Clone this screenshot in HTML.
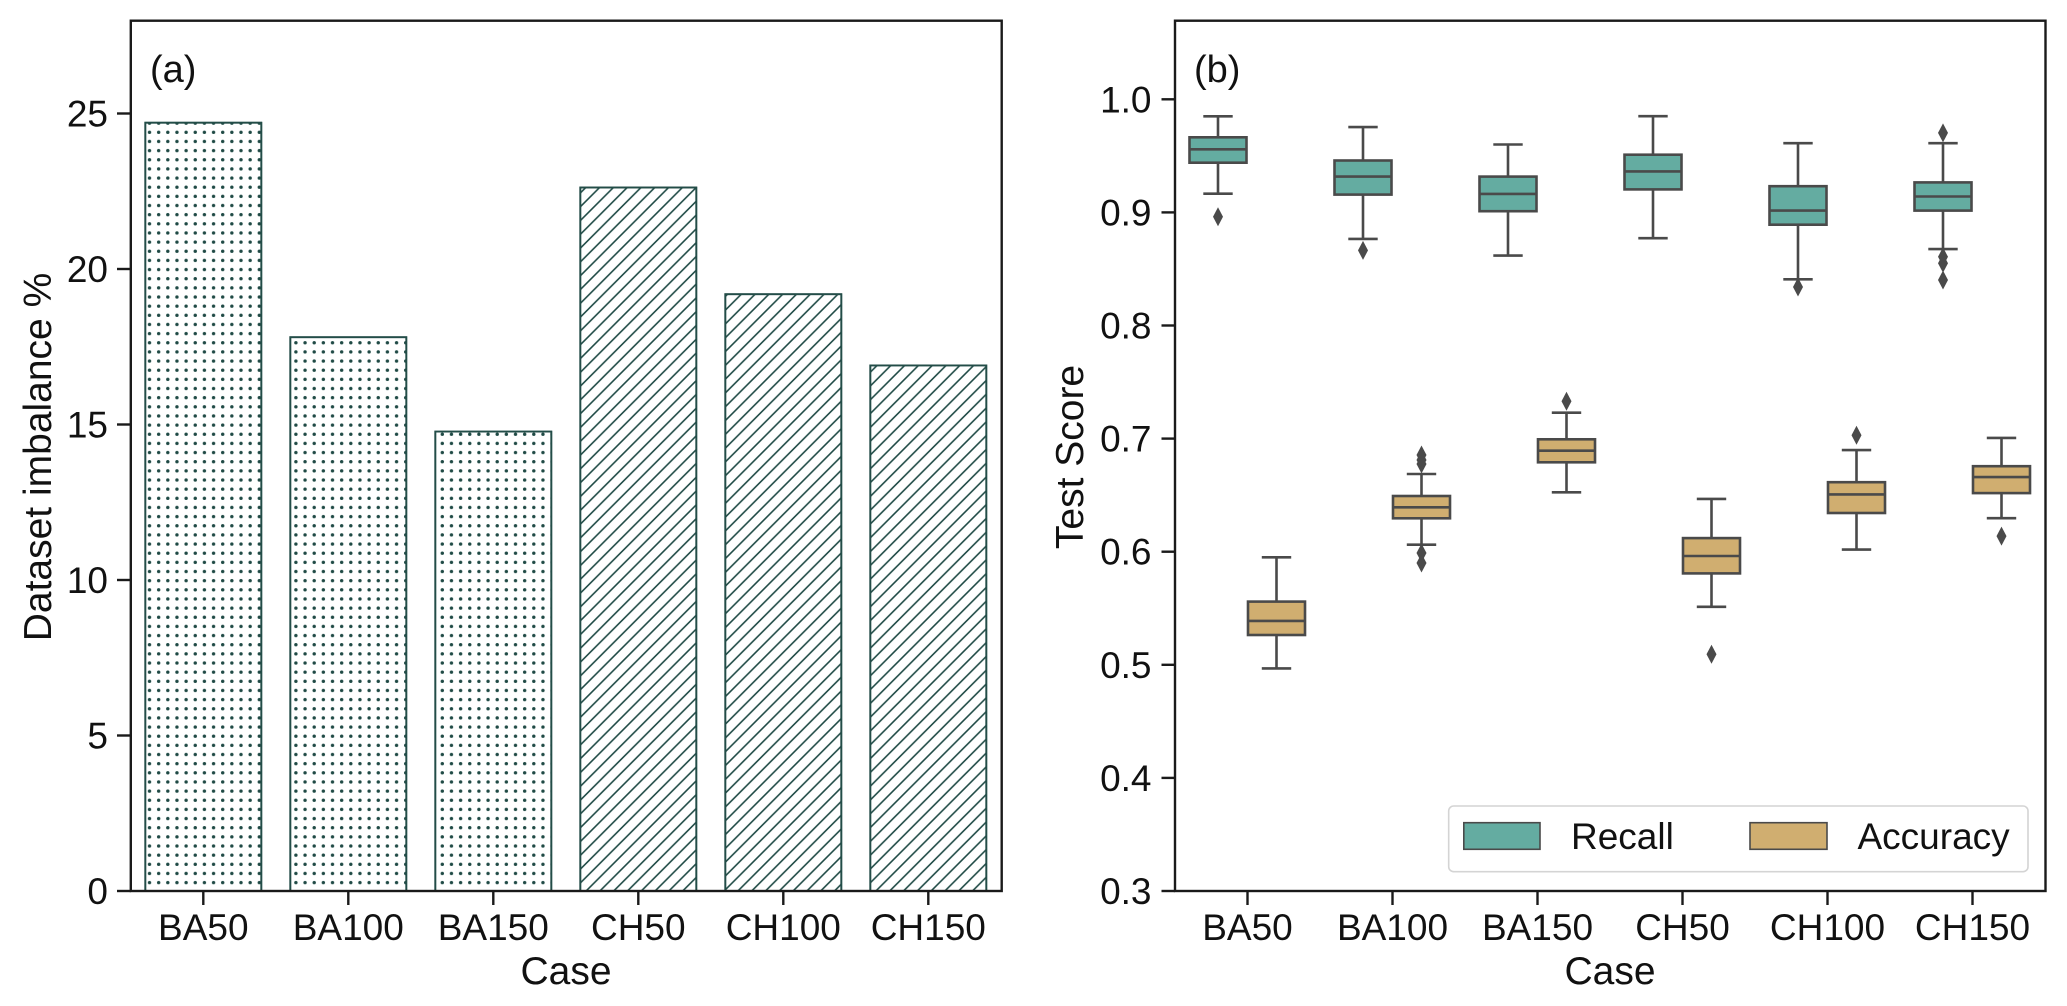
<!DOCTYPE html>
<html><head><meta charset="utf-8"><style>
html,body{margin:0;padding:0;background:#fff;}
svg{display:block;}
text{font-family:"Liberation Sans",Arial,sans-serif;fill:#111;}
</style></head><body>
<svg width="2067" height="1006" viewBox="0 0 2067 1006" xmlns="http://www.w3.org/2000/svg">
<defs>
<pattern id="dots" patternUnits="userSpaceOnUse" x="144.93" y="127.73" width="9.15" height="9.15">
<circle cx="4.575" cy="4.575" r="1.7" fill="#1f4a45"/>
</pattern>
<pattern id="hatch" patternUnits="userSpaceOnUse" x="0.5" y="0" width="13.8" height="13.8">
<path d="M0,13.8 L13.8,0 M-3.45,3.45 L3.45,-3.45 M10.35,17.25 L17.25,10.35" stroke="#1f4a45" stroke-width="1.6"/>
</pattern>
</defs>
<rect width="2067" height="1006" fill="#fff"/>

<!-- ===== Panel (a) ===== -->
<g stroke="#234d48" stroke-width="1.8">
<rect x="145.3" y="122.7" width="116" height="768.3" fill="#fff"/>
<rect x="145.3" y="122.7" width="116" height="768.3" fill="url(#dots)"/>
<rect x="290.3" y="337.2" width="116" height="553.8" fill="#fff"/>
<rect x="290.3" y="337.2" width="116" height="553.8" fill="url(#dots)"/>
<rect x="435.3" y="431.6" width="116" height="459.4" fill="#fff"/>
<rect x="435.3" y="431.6" width="116" height="459.4" fill="url(#dots)"/>
<rect x="580.3" y="187.5" width="116" height="703.5" fill="#fff"/>
<rect x="580.3" y="187.5" width="116" height="703.5" fill="url(#hatch)"/>
<rect x="725.3" y="294.2" width="116" height="596.8" fill="#fff"/>
<rect x="725.3" y="294.2" width="116" height="596.8" fill="url(#hatch)"/>
<rect x="870.3" y="365.4" width="116" height="525.6" fill="#fff"/>
<rect x="870.3" y="365.4" width="116" height="525.6" fill="url(#hatch)"/>
</g>
<rect x="130.8" y="20.7" width="870.9" height="870.3" fill="none" stroke="#1a1a1a" stroke-width="2.4"/>
<g stroke="#1a1a1a" stroke-width="2.4">
<line x1="117" y1="891" x2="131" y2="891"/>
<line x1="117" y1="735.5" x2="131" y2="735.5"/>
<line x1="117" y1="580" x2="131" y2="580"/>
<line x1="117" y1="424.5" x2="131" y2="424.5"/>
<line x1="117" y1="269" x2="131" y2="269"/>
<line x1="117" y1="113.5" x2="131" y2="113.5"/>
<line x1="203.3" y1="891" x2="203.3" y2="905"/>
<line x1="348.3" y1="891" x2="348.3" y2="905"/>
<line x1="493.3" y1="891" x2="493.3" y2="905"/>
<line x1="638.3" y1="891" x2="638.3" y2="905"/>
<line x1="783.3" y1="891" x2="783.3" y2="905"/>
<line x1="928.3" y1="891" x2="928.3" y2="905"/>
</g>
<g font-size="37" text-anchor="end">
<text x="108" y="904">0</text>
<text x="108" y="748.5">5</text>
<text x="108" y="593">10</text>
<text x="108" y="437.5">15</text>
<text x="108" y="282">20</text>
<text x="108" y="126.5">25</text>
</g>
<g font-size="37" text-anchor="middle">
<text x="203.3" y="940">BA50</text>
<text x="348.3" y="940">BA100</text>
<text x="493.3" y="940">BA150</text>
<text x="638.3" y="940">CH50</text>
<text x="783.3" y="940">CH100</text>
<text x="928.3" y="940">CH150</text>
</g>
<text x="566" y="984" font-size="39" text-anchor="middle">Case</text>
<text transform="translate(51,457) rotate(-90)" font-size="39" text-anchor="middle">Dataset imbalance %</text>
<text x="150" y="82" font-size="38">(a)</text>

<!-- ===== Panel (b) ===== -->
<rect x="1175" y="20.7" width="870.5" height="870.3" fill="none" stroke="#1a1a1a" stroke-width="2.4"/>
<g stroke="#1a1a1a" stroke-width="2.4">
<line x1="1161.5" y1="891" x2="1175" y2="891"/>
<line x1="1161.5" y1="777.9" x2="1175" y2="777.9"/>
<line x1="1161.5" y1="664.8" x2="1175" y2="664.8"/>
<line x1="1161.5" y1="551.7" x2="1175" y2="551.7"/>
<line x1="1161.5" y1="438.6" x2="1175" y2="438.6"/>
<line x1="1161.5" y1="325.5" x2="1175" y2="325.5"/>
<line x1="1161.5" y1="212.4" x2="1175" y2="212.4"/>
<line x1="1161.5" y1="99.3" x2="1175" y2="99.3"/>
<line x1="1247.5" y1="891" x2="1247.5" y2="905"/>
<line x1="1392.5" y1="891" x2="1392.5" y2="905"/>
<line x1="1537.5" y1="891" x2="1537.5" y2="905"/>
<line x1="1682.5" y1="891" x2="1682.5" y2="905"/>
<line x1="1827.5" y1="891" x2="1827.5" y2="905"/>
<line x1="1972.5" y1="891" x2="1972.5" y2="905"/>
</g>
<g font-size="37" text-anchor="end">
<text x="1151.5" y="904">0.3</text>
<text x="1151.5" y="790.9">0.4</text>
<text x="1151.5" y="677.8">0.5</text>
<text x="1151.5" y="564.7">0.6</text>
<text x="1151.5" y="451.6">0.7</text>
<text x="1151.5" y="338.5">0.8</text>
<text x="1151.5" y="225.4">0.9</text>
<text x="1151.5" y="112.3">1.0</text>
</g>
<g font-size="37" text-anchor="middle">
<text x="1247.5" y="940">BA50</text>
<text x="1392.5" y="940">BA100</text>
<text x="1537.5" y="940">BA150</text>
<text x="1682.5" y="940">CH50</text>
<text x="1827.5" y="940">CH100</text>
<text x="1972.5" y="940">CH150</text>
</g>
<text x="1610" y="984" font-size="39" text-anchor="middle">Case</text>
<text transform="translate(1083,457) rotate(-90)" font-size="39" text-anchor="middle">Test Score</text>
<text x="1194" y="82" font-size="38">(b)</text>

<!-- boxes -->
<g stroke="#4a4a4a" stroke-width="2.6" fill="none">
<line x1="1218" y1="116.3" x2="1218" y2="137.3"/><line x1="1218" y1="162.7" x2="1218" y2="193.7"/>
<line x1="1203.3" y1="116.3" x2="1232.7" y2="116.3"/><line x1="1203.3" y1="193.7" x2="1232.7" y2="193.7"/>
<rect x="1189.5" y="137.3" width="57" height="25.4" fill="#64aca1"/>
<line x1="1189.5" y1="149.3" x2="1246.5" y2="149.3"/>

<line x1="1363" y1="127.1" x2="1363" y2="160.5"/><line x1="1363" y1="194.6" x2="1363" y2="238.9"/>
<line x1="1348.3" y1="127.1" x2="1377.7" y2="127.1"/><line x1="1348.3" y1="238.9" x2="1377.7" y2="238.9"/>
<rect x="1334.5" y="160.5" width="57" height="34.1" fill="#64aca1"/>
<line x1="1334.5" y1="176.6" x2="1391.5" y2="176.6"/>

<line x1="1508" y1="144.5" x2="1508" y2="176.6"/><line x1="1508" y1="211.2" x2="1508" y2="255.6"/>
<line x1="1493.3" y1="144.5" x2="1522.7" y2="144.5"/><line x1="1493.3" y1="255.6" x2="1522.7" y2="255.6"/>
<rect x="1479.5" y="176.6" width="57" height="34.6" fill="#64aca1"/>
<line x1="1479.5" y1="193.9" x2="1536.5" y2="193.9"/>

<line x1="1653" y1="116.2" x2="1653" y2="154.7"/><line x1="1653" y1="189.4" x2="1653" y2="238.2"/>
<line x1="1638.3" y1="116.2" x2="1667.7" y2="116.2"/><line x1="1638.3" y1="238.2" x2="1667.7" y2="238.2"/>
<rect x="1624.5" y="154.7" width="57" height="34.7" fill="#64aca1"/>
<line x1="1624.5" y1="171.4" x2="1681.5" y2="171.4"/>

<line x1="1798" y1="143.2" x2="1798" y2="186.2"/><line x1="1798" y1="224.7" x2="1798" y2="279.3"/>
<line x1="1783.3" y1="143.2" x2="1812.7" y2="143.2"/><line x1="1783.3" y1="279.3" x2="1812.7" y2="279.3"/>
<rect x="1769.5" y="186.2" width="57" height="38.5" fill="#64aca1"/>
<line x1="1769.5" y1="210.6" x2="1826.5" y2="210.6"/>

<line x1="1943" y1="143.2" x2="1943" y2="182.4"/><line x1="1943" y1="210.6" x2="1943" y2="249.1"/>
<line x1="1928.3" y1="143.2" x2="1957.7" y2="143.2"/><line x1="1928.3" y1="249.1" x2="1957.7" y2="249.1"/>
<rect x="1914.5" y="182.4" width="57" height="28.2" fill="#64aca1"/>
<line x1="1914.5" y1="196.5" x2="1971.5" y2="196.5"/>

<line x1="1276.5" y1="557.3" x2="1276.5" y2="601.6"/><line x1="1276.5" y1="635" x2="1276.5" y2="668.4"/>
<line x1="1261.8" y1="557.3" x2="1291.2" y2="557.3"/><line x1="1261.8" y1="668.4" x2="1291.2" y2="668.4"/>
<rect x="1248" y="601.6" width="57" height="33.4" fill="#d0ae70"/>
<line x1="1248" y1="620.9" x2="1305" y2="620.9"/>

<line x1="1421.5" y1="474" x2="1421.5" y2="496"/><line x1="1421.5" y1="518.3" x2="1421.5" y2="544.7"/>
<line x1="1406.8" y1="474" x2="1436.2" y2="474"/><line x1="1406.8" y1="544.7" x2="1436.2" y2="544.7"/>
<rect x="1393" y="496" width="57" height="22.3" fill="#d0ae70"/>
<line x1="1393" y1="507.3" x2="1450" y2="507.3"/>

<line x1="1566.5" y1="412.7" x2="1566.5" y2="439.3"/><line x1="1566.5" y1="462.3" x2="1566.5" y2="492.3"/>
<line x1="1551.8" y1="412.7" x2="1581.2" y2="412.7"/><line x1="1551.8" y1="492.3" x2="1581.2" y2="492.3"/>
<rect x="1538" y="439.3" width="57" height="23" fill="#d0ae70"/>
<line x1="1538" y1="450.7" x2="1595" y2="450.7"/>

<line x1="1711.5" y1="498.9" x2="1711.5" y2="538.1"/><line x1="1711.5" y1="573.4" x2="1711.5" y2="606.8"/>
<line x1="1696.8" y1="498.9" x2="1726.2" y2="498.9"/><line x1="1696.8" y1="606.8" x2="1726.2" y2="606.8"/>
<rect x="1683" y="538.1" width="57" height="35.3" fill="#d0ae70"/>
<line x1="1683" y1="556" x2="1740" y2="556"/>

<line x1="1856.5" y1="450.1" x2="1856.5" y2="482.2"/><line x1="1856.5" y1="513" x2="1856.5" y2="549.6"/>
<line x1="1841.8" y1="450.1" x2="1871.2" y2="450.1"/><line x1="1841.8" y1="549.6" x2="1871.2" y2="549.6"/>
<rect x="1828" y="482.2" width="57" height="30.8" fill="#d0ae70"/>
<line x1="1828" y1="494.4" x2="1885" y2="494.4"/>

<line x1="2001.5" y1="437.9" x2="2001.5" y2="466.2"/><line x1="2001.5" y1="493.1" x2="2001.5" y2="518.2"/>
<line x1="1986.8" y1="437.9" x2="2016.2" y2="437.9"/><line x1="1986.8" y1="518.2" x2="2016.2" y2="518.2"/>
<rect x="1973" y="466.2" width="57" height="26.9" fill="#d0ae70"/>
<line x1="1973" y1="477.1" x2="2030" y2="477.1"/>
</g>

<!-- outliers -->
<g fill="#4a4a4a">
<path d="M1218,207.2 L1223,216.7 L1218,226.2 L1213,216.7 Z"/>
<path d="M1363,240.9 L1368,250.4 L1363,259.9 L1358,250.4 Z"/>
<path d="M1798,277.5 L1803,287 L1798,296.5 L1793,287 Z"/>
<path d="M1943,123.4 L1948,132.9 L1943,142.4 L1938,132.9 Z"/>
<path d="M1943,247.3 L1948,256.8 L1943,266.3 L1938,256.8 Z"/>
<path d="M1943,253.8 L1948,263.3 L1943,272.8 L1938,263.3 Z"/>
<path d="M1943,270.5 L1948,280 L1943,289.5 L1938,280 Z"/>
<path d="M1421.5,445.5 L1426.5,455 L1421.5,464.5 L1416.5,455 Z"/>
<path d="M1421.5,450.5 L1426.5,460 L1421.5,469.5 L1416.5,460 Z"/>
<path d="M1421.5,454.5 L1426.5,464 L1421.5,473.5 L1416.5,464 Z"/>
<path d="M1421.5,543.5 L1426.5,553 L1421.5,562.5 L1416.5,553 Z"/>
<path d="M1421.5,553.5 L1426.5,563 L1421.5,572.5 L1416.5,563 Z"/>
<path d="M1566.5,391.8 L1571.5,401.3 L1566.5,410.8 L1561.5,401.3 Z"/>
<path d="M1711.5,644.8 L1716.5,654.3 L1711.5,663.8 L1706.5,654.3 Z"/>
<path d="M1856.5,425.8 L1861.5,435.3 L1856.5,444.8 L1851.5,435.3 Z"/>
<path d="M2001.5,526.6 L2006.5,536.1 L2001.5,545.6 L1996.5,536.1 Z"/>
</g>

<!-- legend -->
<rect x="1448.7" y="806" width="579.3" height="65.7" rx="5" ry="5" fill="#fff" stroke="#d4d4d4" stroke-width="1.6"/>
<rect x="1463.8" y="822.7" width="76.2" height="26.6" fill="#64aca1" stroke="#4a4a4a" stroke-width="1.6"/>
<rect x="1750" y="822.7" width="77" height="26.6" fill="#d0ae70" stroke="#4a4a4a" stroke-width="1.6"/>
<text x="1571" y="849" font-size="37">Recall</text>
<text x="1857.5" y="849" font-size="37">Accuracy</text>
</svg>
</body></html>
